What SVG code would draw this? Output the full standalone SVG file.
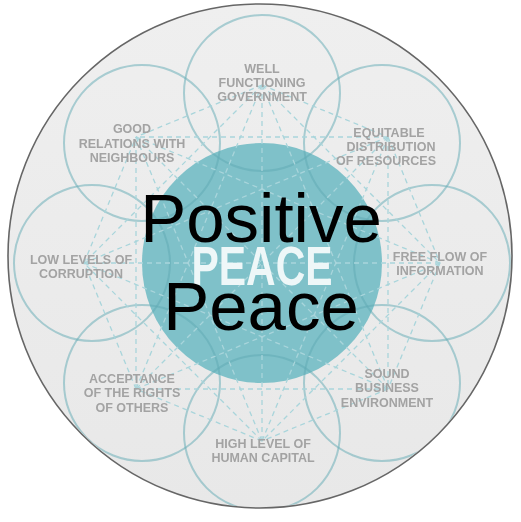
<svg xmlns="http://www.w3.org/2000/svg" width="521" height="522" viewBox="0 0 521 522">
<defs>
<linearGradient id="bg" x1="0" y1="0" x2="0" y2="1">
<stop offset="0" stop-color="#efefef"/>
<stop offset="1" stop-color="#e8e8e8"/>
</linearGradient>
<filter id="soft" x="-10%" y="-10%" width="120%" height="120%"><feGaussianBlur stdDeviation="0.45"/></filter>
<clipPath id="outerClip"><circle cx="260" cy="256" r="251"/></clipPath>
</defs>
<style>
.petal{fill:none;stroke:#5fa9b3;stroke-opacity:0.5;stroke-width:2}
.dash{stroke:#a9d5db;stroke-width:1.3;stroke-dasharray:5 4;fill:none}
.lbl{font-family:"Liberation Sans",Arial,sans-serif;font-weight:bold;font-size:12.5px;fill:#a3a3a3;text-anchor:middle}
.big{font-family:"Liberation Sans",Arial,Helvetica,sans-serif;font-size:69px;fill:#000;text-anchor:middle}
</style>
<g id="background">
<circle cx="260" cy="256" r="252" fill="url(#bg)" stroke="#666" stroke-width="1.6"/>
</g>
<g id="center-circle">
<circle cx="262" cy="263" r="120" fill="#7fc1c9"/>
</g>
<g id="petals" clip-path="url(#outerClip)">
<circle class="petal" cx="262" cy="93" r="78"/>
<circle class="petal" cx="382" cy="143" r="78"/>
<circle class="petal" cx="432" cy="263" r="78"/>
<circle class="petal" cx="382" cy="383" r="78"/>
<circle class="petal" cx="262" cy="433" r="78"/>
<circle class="petal" cx="142" cy="383" r="78"/>
<circle class="petal" cx="92" cy="263" r="78"/>
<circle class="petal" cx="142" cy="143" r="78"/>
</g>
<g id="connectors" class="dash">
<!-- octagon vertices, R=178 around (262,263) -->
<!-- N(262,85) NE(388,137) E(440,263) SE(388,389) S(262,441) SW(136,389) W(84,263) NW(136,137) -->
<line x1="262" y1="85" x2="388" y2="137"/>
<line x1="262" y1="85" x2="440" y2="263"/>
<line x1="262" y1="85" x2="388" y2="389"/>
<line x1="262" y1="85" x2="262" y2="441"/>
<line x1="262" y1="85" x2="136" y2="389"/>
<line x1="262" y1="85" x2="84" y2="263"/>
<line x1="262" y1="85" x2="136" y2="137"/>
<line x1="388" y1="137" x2="440" y2="263"/>
<line x1="388" y1="137" x2="388" y2="389"/>
<line x1="388" y1="137" x2="262" y2="441"/>
<line x1="388" y1="137" x2="136" y2="389"/>
<line x1="388" y1="137" x2="84" y2="263"/>
<line x1="388" y1="137" x2="136" y2="137"/>
<line x1="440" y1="263" x2="388" y2="389"/>
<line x1="440" y1="263" x2="262" y2="441"/>
<line x1="440" y1="263" x2="136" y2="389"/>
<line x1="440" y1="263" x2="84" y2="263"/>
<line x1="440" y1="263" x2="136" y2="137"/>
<line x1="388" y1="389" x2="262" y2="441"/>
<line x1="388" y1="389" x2="136" y2="389"/>
<line x1="388" y1="389" x2="84" y2="263"/>
<line x1="388" y1="389" x2="136" y2="137"/>
<line x1="262" y1="441" x2="136" y2="389"/>
<line x1="262" y1="441" x2="84" y2="263"/>
<line x1="262" y1="441" x2="136" y2="137"/>
<line x1="136" y1="389" x2="84" y2="263"/>
<line x1="136" y1="389" x2="136" y2="137"/>
<line x1="84" y1="263" x2="136" y2="137"/>
</g>
<g id="labels" filter="url(#soft)">
<g id="n-government"><text class="lbl" x="262" y="72.5">WELL</text><text class="lbl" x="262" y="86.5">FUNCTIONING</text><text class="lbl" x="262" y="100.5">GOVERNMENT</text></g>
<g id="n-resources"><text class="lbl" x="389" y="137">EQUITABLE</text><text class="lbl" x="391" y="151">DISTRIBUTION</text><text class="lbl" x="386" y="165">OF RESOURCES</text></g>
<g id="n-information"><text class="lbl" x="440" y="260.5">FREE FLOW OF</text><text class="lbl" x="440" y="274.5">INFORMATION</text></g>
<g id="n-business"><text class="lbl" x="387" y="377.5">SOUND</text><text class="lbl" x="387" y="392">BUSINESS</text><text class="lbl" x="387" y="406.5">ENVIRONMENT</text></g>
<g id="n-human"><text class="lbl" x="263" y="447.5">HIGH LEVEL OF</text><text class="lbl" x="263" y="461.5">HUMAN CAPITAL</text></g>
<g id="n-rights"><text class="lbl" x="132" y="382.5">ACCEPTANCE</text><text class="lbl" x="132" y="397">OF THE RIGHTS</text><text class="lbl" x="132" y="411.5">OF OTHERS</text></g>
<g id="n-corruption"><text class="lbl" x="81" y="263.5">LOW LEVELS OF</text><text class="lbl" x="81" y="277.5">CORRUPTION</text></g>
<g id="n-neighbours"><text class="lbl" x="132" y="133">GOOD</text><text class="lbl" x="132" y="147.5">RELATIONS WITH</text><text class="lbl" x="132" y="162">NEIGHBOURS</text></g>
</g>
<g id="peace-word" filter="url(#soft)">
<text x="262" y="285" font-family="'Liberation Sans',Arial,sans-serif" font-weight="bold" font-size="55" fill="#eef7f8" text-anchor="middle" textLength="141" lengthAdjust="spacingAndGlyphs">PEACE</text>
</g>
<g id="title">
<text class="big" x="261" y="242">Positive</text>
<text class="big" x="261" y="330">Peace</text>
</g>
</svg>
